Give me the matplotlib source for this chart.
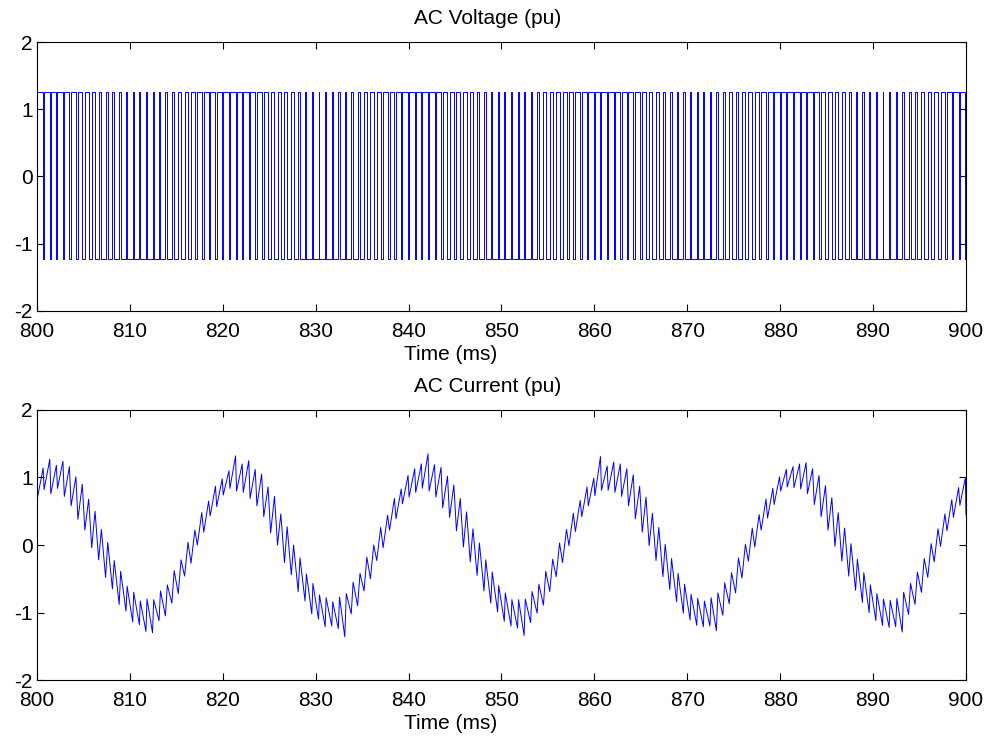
import numpy as np
import matplotlib
matplotlib.use("Agg")
import matplotlib.pyplot as plt

plt.rcParams['font.family'] = ['Liberation Sans', 'DejaVu Sans']
plt.rcParams['axes.unicode_minus'] = False

# ---- data -------------------------------------------------------------
t_start, t_stop = 800.0, 900.0          # ms
n_carrier = 140                          # PWM carrier periods in the window

# duty ratio (fraction of each carrier period at the positive rail)
duty = [
    .85, .86, .84, .82, .77, .72, .66, .57, .50, .41, .33, .27, .22, .17,
    .15, .14, .16, .18, .22, .29, .35, .42, .51, .58, .66, .74, .79, .83,
    .86, .85, .85, .83, .78, .71, .65, .58, .49, .40, .34, .28, .21, .17,
    .14, .14, .15, .19, .23, .28, .36, .43, .50, .59, .67, .73, .78, .84,
    .85, .86, .86, .82, .78, .73, .64, .57, .48, .41, .35, .27, .21, .16,
    .15, .13, .15, .18, .22, .27, .35, .44, .51, .60, .66, .72, .79, .83,
    .84, .86, .85, .81, .79, .72, .65, .56, .49, .42, .34, .26, .22, .17,
    .14, .14, .16, .17, .23, .28, .34, .43, .52, .59, .65, .73, .80, .82,
    .85, .87, .85, .82, .77, .71, .66, .57, .49, .41, .33, .27, .21, .18,
    .15, .14, .15, .18, .21, .29, .35, .42, .51, .58, .67, .73, .78, .83,
]

# phase current at the rising edge (local minimum) of each carrier period
i_trough = [
    .70, .82, .76, .84, .72, .58, .38, .22, -.04, -.22, -.48, -.65, -.88, -.98,
    -1.14, -1.18, -1.28, -1.30, -1.12, -1.05, -.86, -.72, -.46, -.27, .00, .19, .43, .57,
    .74, .84, .80, .78, .69, .58, .42, .18, .00, -.26, -.44, -.69, -.83, -1.02,
    -1.10, -1.21, -1.20, -1.24, -1.36, -1.02, -.90, -.68, -.50, -.23, -.04, .22, .39, .61,
    .71, .78, .84, .80, .71, .55, .41, .21, -.03, -.25, -.45, -.68, -.86, -.99,
    -1.13, -1.20, -1.23, -1.34, -1.15, -1.01, -.89, -.69, -.47, -.26, -.01, .20, .42, .58,
    .73, .81, .81, .78, .72, .58, .39, .19, -.01, -.23, -.47, -.66, -.84, -1.01,
    -1.11, -1.19, -1.21, -1.20, -1.27, -1.04, -.87, -.71, -.49, -.24, -.03, .22, .40, .60,
    .80, .86, .85, .83, .76, .60, .42, .22, -.02, -.24, -.46, -.67, -.85, -1.00,
    -1.12, -1.19, -1.22, -1.21, -1.29, -1.03, -.88, -.70, -.48, -.25, -.02, .21, .41, .59,
]

# phase current at the falling edge (local maximum) of each carrier period
i_peak = [
    1.14, 1.27, 1.18, 1.24, 1.16, 1.01, .90, .68, .50, .23, .04, -.23, -.39, -.61,
    -.70, -.83, -.80, -.81, -.68, -.59, -.38, -.22, .04, .22, .48, .65, .87, .98,
    1.10, 1.32, 1.20, 1.25, 1.12, 1.05, .86, .72, .46, .27, .00, -.19, -.43, -.57,
    -.74, -.78, -.84, -.77, -.72, -.55, -.42, -.18, .00, .26, .44, .69, .83, 1.03,
    1.13, 1.20, 1.35, 1.19, 1.15, 1.02, .89, .69, .49, .24, .03, -.22, -.40, -.60,
    -.71, -.81, -.81, -.80, -.69, -.58, -.39, -.21, .03, .23, .47, .66, .86, .99,
    1.31, 1.17, 1.23, 1.20, 1.13, 1.04, .87, .71, .47, .26, .01, -.20, -.42, -.58,
    -.73, -.79, -.83, -.78, -.71, -.56, -.41, -.19, .01, .25, .45, .68, .84, 1.01,
    1.12, 1.16, 1.20, 1.22, 1.13, 1.03, .88, .70, .48, .25, .02, -.21, -.41, -.59,
    -.72, -.80, -.82, -.79, -.70, -.57, -.40, -.20, .02, .24, .46, .67, .85, 1.00,
]

i_first, i_last = 0.27, 0.45           # current at the window edges
v_high, v_low = 1.25, -1.23            # inverter output rails (pu)

x_ticks = list(range(800, 901, 10))
y_ticks = [-2, -1, 0, 1, 2]

# ---- switching instants (centred pulses on the carrier grid) -------------
period = (t_stop - t_start) / n_carrier
d = np.asarray(duty)
centre = t_start + (np.arange(n_carrier) + 0.5) * period
t_rise = centre - d * period / 2
t_fall = centre + d * period / 2

edges = np.empty(2 * n_carrier)
edges[0::2] = t_rise
edges[1::2] = t_fall
t_sw = np.concatenate([[t_start], edges, [t_stop]])

v_lvl = np.empty(2 * n_carrier)
v_lvl[0::2] = v_high
v_lvl[1::2] = v_low
v_sw = np.concatenate([[v_low], v_lvl, [v_low]])

i_lvl = np.empty(2 * n_carrier)
i_lvl[0::2] = i_trough
i_lvl[1::2] = i_peak
i_sw = np.concatenate([[i_first], i_lvl, [i_last]])

# ---- figure ---------------------------------------------------------------
fig = plt.figure(figsize=(9.89, 7.45), dpi=100)
ax1 = fig.add_axes([0.0374, 0.5826, 0.9393, 0.3610])
ax2 = fig.add_axes([0.0374, 0.0872, 0.9393, 0.3625])

blue = (0, 0, 1)
ax1.plot(t_sw, v_sw, drawstyle='steps-post', color=blue, lw=0.7)
ax2.plot(t_sw, i_sw, color=blue, lw=0.7)

for ax, title in ((ax1, 'AC Voltage (pu)'), (ax2, 'AC Current (pu)')):
    ax.set_xlim(t_start, t_stop)
    ax.set_ylim(-2, 2)
    ax.set_xticks(x_ticks)
    ax.set_yticks(y_ticks)
    ax.tick_params(direction='in', top=True, right=True, length=5,
                   width=0.8, labelsize=15)
    ax.tick_params(axis='x', pad=8)
    ax.tick_params(axis='y', pad=3)
    for s in ax.spines.values():
        s.set_linewidth(0.8)
    ax.set_title(title, fontsize=15, pad=13, x=0.485)
    ax.set_xlabel('Time (ms)', fontsize=15, labelpad=3, x=0.445)

fig.savefig('out.png', dpi=100)
